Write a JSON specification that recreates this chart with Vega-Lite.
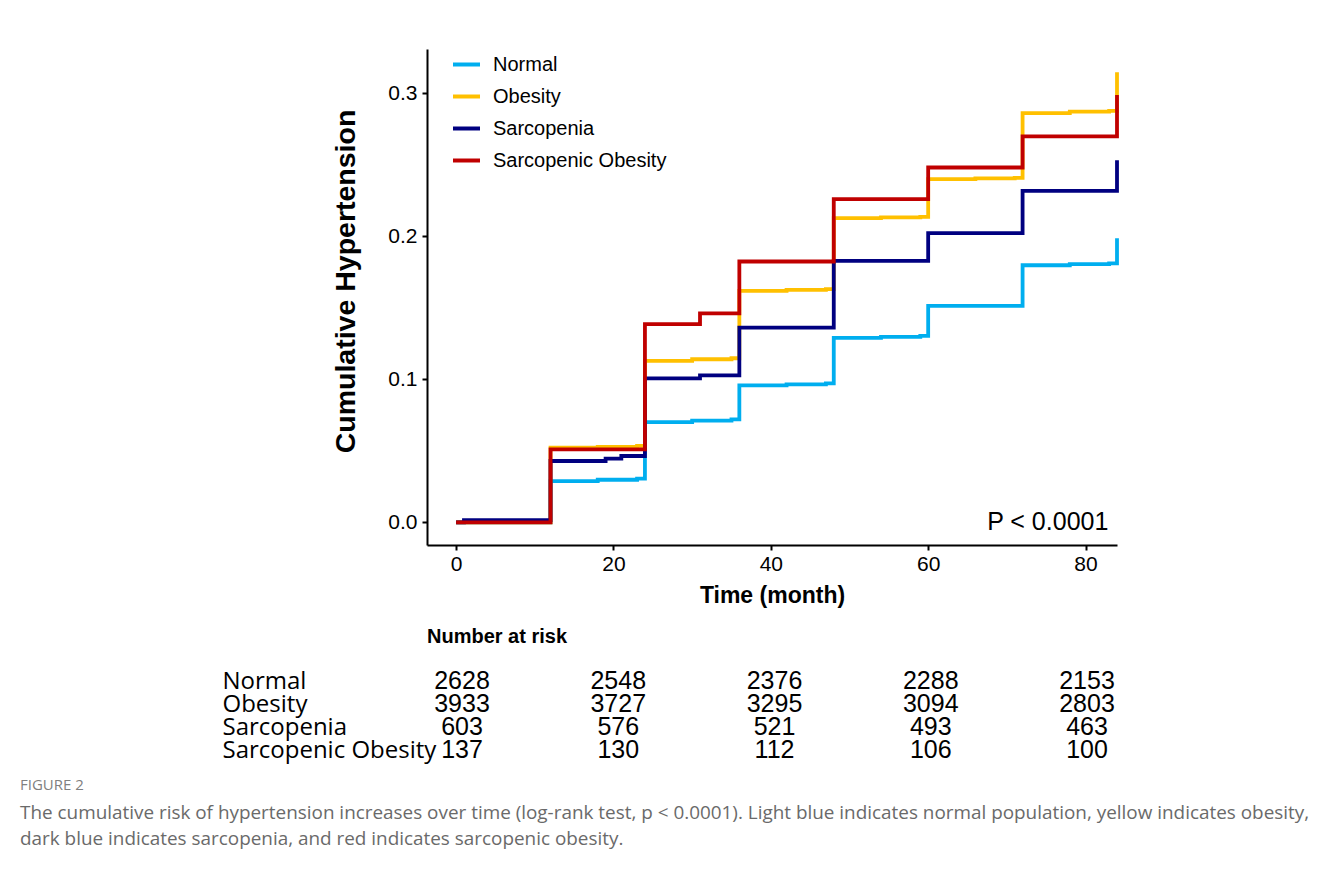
{
  "$schema": "https://vega.github.io/schema/vega-lite/v6.json",
  "background": "white",
  "padding": {"left": 20, "top": 49, "right": 5, "bottom": 5},
  "config": {
    "view": {"stroke": null},
    "font": "Liberation Sans",
    "axis": {
      "domainColor": "black", "domainWidth": 2, "tickColor": "black", "tickWidth": 2, "tickSize": 5,
      "labelColor": "black", "labelFont": "Liberation Sans", "labelFontSize": 21,
      "titleColor": "black", "titleFont": "Liberation Sans", "titleFontWeight": "bold", "grid": false
    }
  },
  "title": {
    "text": "FIGURE 2",
    "subtitle": [
      "The cumulative risk of hypertension increases over time (log-rank test, p < 0.0001). Light blue indicates normal population, yellow indicates obesity,",
      "dark blue indicates sarcopenia, and red indicates sarcopenic obesity."
    ],
    "orient": "bottom", "anchor": "start", "dx": -202, "offset": 15,
    "font": "Open Sans", "fontSize": 15, "fontWeight": "normal", "color": "#808080",
    "subtitleFont": "Open Sans", "subtitleFontSize": 18.9, "subtitleColor": "#6a6a6a",
    "subtitleLineHeight": 26, "subtitlePadding": 11
  },
  "bounds": "flush",
  "spacing": 124.5,
  "vconcat": [
    {
      "width": 690,
      "height": 496,
      "layer": [
        {
          "data": {"values": [
            {"group": "Normal", "t": 0, "v": 0},
            {"group": "Normal", "t": 12, "v": 0.0289},
            {"group": "Normal", "t": 18, "v": 0.0298},
            {"group": "Normal", "t": 23, "v": 0.0306},
            {"group": "Normal", "t": 24, "v": 0.0701},
            {"group": "Normal", "t": 30, "v": 0.0711},
            {"group": "Normal", "t": 35, "v": 0.072},
            {"group": "Normal", "t": 36, "v": 0.0958},
            {"group": "Normal", "t": 42, "v": 0.0965},
            {"group": "Normal", "t": 47, "v": 0.0972},
            {"group": "Normal", "t": 48, "v": 0.129},
            {"group": "Normal", "t": 54, "v": 0.1297},
            {"group": "Normal", "t": 59, "v": 0.1303},
            {"group": "Normal", "t": 60, "v": 0.1513},
            {"group": "Normal", "t": 72, "v": 0.1797},
            {"group": "Normal", "t": 78, "v": 0.1805},
            {"group": "Normal", "t": 83, "v": 0.181},
            {"group": "Normal", "t": 84, "v": 0.1986},
            {"group": "Obesity", "t": 0, "v": 0},
            {"group": "Obesity", "t": 12, "v": 0.0522},
            {"group": "Obesity", "t": 18, "v": 0.0528},
            {"group": "Obesity", "t": 23, "v": 0.0534},
            {"group": "Obesity", "t": 24, "v": 0.1128},
            {"group": "Obesity", "t": 30, "v": 0.114},
            {"group": "Obesity", "t": 35, "v": 0.1147},
            {"group": "Obesity", "t": 36, "v": 0.1618},
            {"group": "Obesity", "t": 42, "v": 0.1625},
            {"group": "Obesity", "t": 47, "v": 0.163},
            {"group": "Obesity", "t": 48, "v": 0.2126},
            {"group": "Obesity", "t": 54, "v": 0.2131},
            {"group": "Obesity", "t": 59, "v": 0.2135},
            {"group": "Obesity", "t": 60, "v": 0.2399},
            {"group": "Obesity", "t": 66, "v": 0.2404},
            {"group": "Obesity", "t": 71, "v": 0.2408},
            {"group": "Obesity", "t": 72, "v": 0.286},
            {"group": "Obesity", "t": 78, "v": 0.287},
            {"group": "Obesity", "t": 83, "v": 0.2876},
            {"group": "Obesity", "t": 84, "v": 0.3145},
            {"group": "Sarcopenia", "t": 0, "v": 0},
            {"group": "Sarcopenia", "t": 1, "v": 0.0016},
            {"group": "Sarcopenia", "t": 12, "v": 0.0429},
            {"group": "Sarcopenia", "t": 19, "v": 0.0445},
            {"group": "Sarcopenia", "t": 21, "v": 0.0464},
            {"group": "Sarcopenia", "t": 24, "v": 0.1007},
            {"group": "Sarcopenia", "t": 31, "v": 0.1028},
            {"group": "Sarcopenia", "t": 36, "v": 0.1361},
            {"group": "Sarcopenia", "t": 48, "v": 0.1827},
            {"group": "Sarcopenia", "t": 60, "v": 0.2021},
            {"group": "Sarcopenia", "t": 72, "v": 0.2317},
            {"group": "Sarcopenia", "t": 84, "v": 0.2531},
            {"group": "Sarcopenic Obesity", "t": 0, "v": 0},
            {"group": "Sarcopenic Obesity", "t": 12, "v": 0.051},
            {"group": "Sarcopenic Obesity", "t": 24, "v": 0.1385},
            {"group": "Sarcopenic Obesity", "t": 31, "v": 0.146},
            {"group": "Sarcopenic Obesity", "t": 36, "v": 0.1823},
            {"group": "Sarcopenic Obesity", "t": 48, "v": 0.2259},
            {"group": "Sarcopenic Obesity", "t": 60, "v": 0.248},
            {"group": "Sarcopenic Obesity", "t": 72, "v": 0.2697},
            {"group": "Sarcopenic Obesity", "t": 84, "v": 0.2986}
          ]},
          "mark": {"type": "line", "interpolate": "step-after", "strokeWidth": 3.8},
          "encoding": {
            "x": {"field": "t", "type": "quantitative",
                  "scale": {"domain": [-3.7, 84], "nice": false, "zero": false},
                  "axis": {"values": [0, 20, 40, 60, 80], "title": "Time (month)", "titleFontSize": 23, "labelPadding": 3, "titlePadding": 10}},
            "y": {"field": "v", "type": "quantitative",
                  "scale": {"domain": [-0.0158, 0.3308], "nice": false, "zero": false},
                  "axis": {"values": [0, 0.1, 0.2, 0.3], "format": ".1f", "title": "Cumulative Hypertension", "titleFontSize": 28.5, "titleY": 232, "labelPadding": 5, "titlePadding": 27}},
            "color": {"field": "group", "type": "nominal",
                      "scale": {"domain": ["Normal", "Obesity", "Sarcopenia", "Sarcopenic Obesity"], "range": ["#00AEEF", "#FFC000", "#000080", "#C00000"]},
                      "legend": {"orient": "none", "legendX": 24, "legendY": 0, "title": null, "symbolType": "stroke", "symbolStrokeWidth": 4, "symbolSize": 729, "labelFontSize": 20, "labelLimit": 400, "labelColor": "black", "labelFont": "Liberation Sans", "labelOffset": 11, "rowPadding": 6, "padding": 0}}
          }
        },
        {
          "data": {"values": [{"label": "P < 0.0001"}]},
          "mark": {"type": "text", "align": "right", "baseline": "middle", "fontSize": 25, "font": "Liberation Sans", "color": "black"},
          "encoding": {
            "x": {"datum": 82.9, "type": "quantitative"},
            "y": {"datum": 0, "type": "quantitative"},
            "text": {"field": "label"}
          }
        }
      ]
    },
    {
      "width": 690,
      "height": 92,
      "title": {"text": "Number at risk", "anchor": "start", "frame": "group", "fontSize": 20, "fontWeight": "bold", "font": "Liberation Sans", "color": "black", "offset": 22},
      "data": {"values": [
        {"group": "Normal", "t": 0, "n": 2628},
        {"group": "Normal", "t": 20, "n": 2548},
        {"group": "Normal", "t": 40, "n": 2376},
        {"group": "Normal", "t": 60, "n": 2288},
        {"group": "Normal", "t": 80, "n": 2153},
        {"group": "Obesity", "t": 0, "n": 3933},
        {"group": "Obesity", "t": 20, "n": 3727},
        {"group": "Obesity", "t": 40, "n": 3295},
        {"group": "Obesity", "t": 60, "n": 3094},
        {"group": "Obesity", "t": 80, "n": 2803},
        {"group": "Sarcopenia", "t": 0, "n": 603},
        {"group": "Sarcopenia", "t": 20, "n": 576},
        {"group": "Sarcopenia", "t": 40, "n": 521},
        {"group": "Sarcopenia", "t": 60, "n": 493},
        {"group": "Sarcopenia", "t": 80, "n": 463},
        {"group": "Sarcopenic Obesity", "t": 0, "n": 137},
        {"group": "Sarcopenic Obesity", "t": 20, "n": 130},
        {"group": "Sarcopenic Obesity", "t": 40, "n": 112},
        {"group": "Sarcopenic Obesity", "t": 60, "n": 106},
        {"group": "Sarcopenic Obesity", "t": 80, "n": 100}
      ]},
      "mark": {"type": "text", "fontSize": 25, "font": "Liberation Sans", "color": "black", "baseline": "middle"},
      "encoding": {
        "x": {"field": "t", "type": "quantitative", "scale": {"domain": [-4.48, 83.84], "nice": false, "zero": false}, "axis": null},
        "y": {"field": "group", "type": "nominal", "sort": ["Normal", "Obesity", "Sarcopenia", "Sarcopenic Obesity"],
              "scale": {"paddingInner": 0, "paddingOuter": 0},
              "axis": {"title": null, "domain": false, "ticks": false, "labelAlign": "left", "labelPadding": 205, "labelLimit": 400, "labelFont": "Open Sans", "labelFontSize": 24, "labelColor": "black", "labelBaseline": "middle"}},
        "text": {"field": "n", "type": "quantitative"}
      }
    }
  ]
}
